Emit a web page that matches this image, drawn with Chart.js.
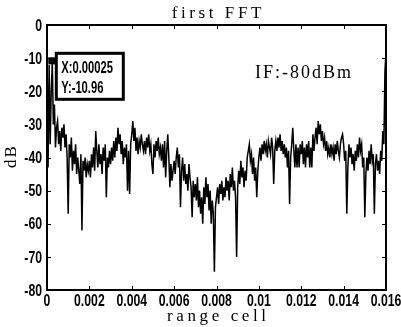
<!DOCTYPE html>
<html>
<head>
<meta charset="utf-8">
<script src="https://cdn.jsdelivr.net/npm/chart.js@4/dist/chart.umd.min.js"></script>
<style>
  html, body { margin: 0; padding: 0; background: #fff; }
  #wrap { width: 401px; height: 327px; }
</style>
</head>
<body>
<div id="wrap"><canvas id="fftChart" width="401" height="327"></canvas></div>
<script>
// spectrum magnitude per range cell (dB), cell spacing 0.00005
const cellStep = 0.00005;
const dbValues = [
  -7, -43, -12, -36, -20, -10.96, -30, -24, -37, -31, -29, -36, -32, -38, -31, -34, -30, -37, -33, -40,
  -57, -36, -40, -34, -44, -38, -42, -36, -45, -40, -44, -48, -39, -62, -41, -44, -40, -46, -42, -44,
  -41, -46, -39, -43, -37, -44, -32, -38, -43, -36, -42, -39, -45, -37, -41, -36, -52, -40, -43, -38,
  -42, -37, -41, -35, -40, -34, -38, -31, -36, -33, -39, -35, -42, -37, -40, -36, -50, -38, -51, -36,
  -33, -29, -35, -31, -38, -34, -39, -35, -37, -33, -36, -38, -35, -39, -34, -37, -33, -38, -36, -42,
  -45, -36, -40, -35, -38, -34, -39, -37, -41, -36, -43, -35, -46, -38, -33, -40, -49, -42, -47, -44,
  -41, -45, -40, -37, -43, -39, -55, -44, -40, -47, -42, -48, -45, -50, -42, -46, -49, -58, -47, -52,
  -48, -53, -46, -55, -50, -57, -52, -60, -49, -54, -46, -52, -48, -56, -50, -60, -53, -57, -74.5, -55,
  -52, -49, -54, -48, -51, -47, -53, -49, -52, -46, -50, -47, -53, -45, -49, -43, -50, -47, -52, -70,
  -49, -44, -48, -41, -46, -43, -49, -44, -47, -40, -38, -36, -41, -39, -45, -40, -47, -43, -52, -44,
  -40, -37, -41, -36, -39, -35, -38, -36, -40, -35, -37, -39, -34, -37, -48, -38, -35, -38, -34, -37,
  -33, -38, -35, -39, -36, -40, -37, -43, -38, -54, -40, -36, -31, -38, -43, -36, -43, -37, -43, -36,
  -39, -35, -42, -37, -43, -36, -40, -35, -43, -37, -43, -33, -38, -34, -31, -36, -29, -33, -30, -35,
  -32, -36, -34, -38, -35, -39, -37, -40, -36, -39, -37, -41, -36, -39, -35, -38, -40, -36, -34, -33,
  -36, -41, -38, -57, -43, -36, -40, -37, -42, -39, -44, -38, -41, -36, -40, -34, -38, -36, -43, -40,
  -58, -45, -40, -44, -38, -42, -36, -41, -39, -57, -42, -39, -44, -41, -45, -38, -41, -32, -36, -14, -8
];

const xTicks = [0, 0.002, 0.004, 0.006, 0.008, 0.01, 0.012, 0.014, 0.016];
const xTickLabels = ['0', '0.002', '0.004', '0.006', '0.008', '0.01', '0.012', '0.014', '0.016'];
const yTicks = [-80, -70, -60, -50, -40, -30, -20, -10, 0];
const yTickLabels = ['-80', '-70', '-60', '-50', '-40', '-30', '-20', '-10', '0'];

const tipIndex = 5;
const tipLines = ['X:0.00025', 'Y:-10.96'];
const noteText = 'IF:-80dBm';

const points = dbValues.map((v, i) => ({ x: i * cellStep, y: v }));

const boldFont = size => `bold ${size}px 'Liberation Sans', Arial, sans-serif`;
const serifFont = size => `${size}px 'Liberation Serif', 'DejaVu Serif', serif`;

// bold labels squeezed horizontally to look like a narrow face
function narrowText(ctx, text, x, y, align, squeeze) {
  ctx.save();
  ctx.translate(x, y);
  ctx.scale(squeeze, 1);
  ctx.textAlign = align;
  ctx.fillText(text, 0, 0);
  ctx.restore();
}

function spacedText(ctx, text, x, y, spacing) {
  ctx.save();
  ctx.letterSpacing = spacing + 'px';
  const w = ctx.measureText(text).width - spacing;
  ctx.textAlign = 'left';
  ctx.fillText(text, x - w / 2, y);
  ctx.restore();
}

// matlab style box, inward ticks, tick labels, titles, data tip
const axesDecor = {
  id: 'axesDecor',
  afterDraw(chart) {
    const { ctx, chartArea: a, scales } = chart;
    ctx.save();
    ctx.strokeStyle = '#000';
    ctx.fillStyle = '#000';
    ctx.lineWidth = 2;
    ctx.strokeRect(a.left, a.top, a.right - a.left, a.bottom - a.top);

    ctx.lineWidth = 1;
    ctx.beginPath();
    xTicks.forEach(v => {
      const px = Math.round(scales.x.getPixelForValue(v)) + 0.5;
      ctx.moveTo(px, a.bottom); ctx.lineTo(px, a.bottom - 4);
      ctx.moveTo(px, a.top); ctx.lineTo(px, a.top + 4);
    });
    yTicks.forEach(v => {
      const py = Math.round(scales.y.getPixelForValue(v)) + 0.5;
      ctx.moveTo(a.left, py); ctx.lineTo(a.left + 4, py);
      ctx.moveTo(a.right, py); ctx.lineTo(a.right - 4, py);
    });
    ctx.stroke();

    // tick labels
    ctx.font = boldFont(17);
    ctx.textBaseline = 'middle';
    xTicks.forEach((v, i) => {
      narrowText(ctx, xTickLabels[i], scales.x.getPixelForValue(v), a.bottom + 11, 'center', 0.72);
    });
    yTicks.forEach((v, i) => {
      narrowText(ctx, yTickLabels[i], a.left - 5, scales.y.getPixelForValue(v) + 1, 'right', 0.72);
    });

    // titles
    ctx.textBaseline = 'alphabetic';
    ctx.font = serifFont(17);
    const cx = (a.left + a.right) / 2;
    spacedText(ctx, 'first FFT', cx, 18, 3.6);
    spacedText(ctx, 'range cell', cx, 321, 3.6);
    ctx.save();
    ctx.translate(16, 157);
    ctx.rotate(-Math.PI / 2);
    spacedText(ctx, 'dB', 0, 0, 2);
    ctx.restore();

    ctx.font = serifFont(18);
    spacedText(ctx, noteText, 303, 78, 2);

    // data tip
    const tx = scales.x.getPixelForValue(tipIndex * cellStep);
    const ty = scales.y.getPixelForValue(dbValues[tipIndex]);
    ctx.fillRect(tx - 4, ty - 4, 7, 7);
    ctx.fillStyle = '#fff';
    ctx.fillRect(tx + 4, ty - 8, 67, 46);
    ctx.lineWidth = 3;
    ctx.strokeRect(tx + 4, ty - 8, 67, 46);
    ctx.fillStyle = '#000';
    ctx.font = boldFont(16);
    ctx.textBaseline = 'middle';
    narrowText(ctx, tipLines[0], tx + 9, ty + 7, 'left', 0.7);
    narrowText(ctx, tipLines[1], tx + 9, ty + 27, 'left', 0.7);
    ctx.restore();
  }
};

new Chart(document.getElementById('fftChart'), {
  type: 'line',
  data: {
    datasets: [{
      data: points,
      borderColor: '#000',
      borderWidth: 1.5,
      pointRadius: 0,
      tension: 0,
      fill: false
    }]
  },
  options: {
    responsive: false,
    animation: false,
    layout: { padding: { left: 5, right: 15, top: 25, bottom: 17 } },
    plugins: {
      legend: { display: false },
      tooltip: { enabled: false }
    },
    scales: {
      x: {
        type: 'linear',
        min: 0,
        max: 0.016,
        afterBuildTicks: s => { s.ticks = xTicks.map(v => ({ value: v })); },
        afterFit: s => { s.height = 20; },
        grid: { display: false, drawTicks: false },
        border: { display: false },
        ticks: { display: false }
      },
      y: {
        min: -80,
        max: 0,
        afterBuildTicks: s => { s.ticks = yTicks.map(v => ({ value: v })); },
        afterFit: s => { s.width = 42; },
        grid: { display: false, drawTicks: false },
        border: { display: false },
        ticks: { display: false }
      }
    }
  },
  plugins: [axesDecor]
});
</script>
</body>
</html>
